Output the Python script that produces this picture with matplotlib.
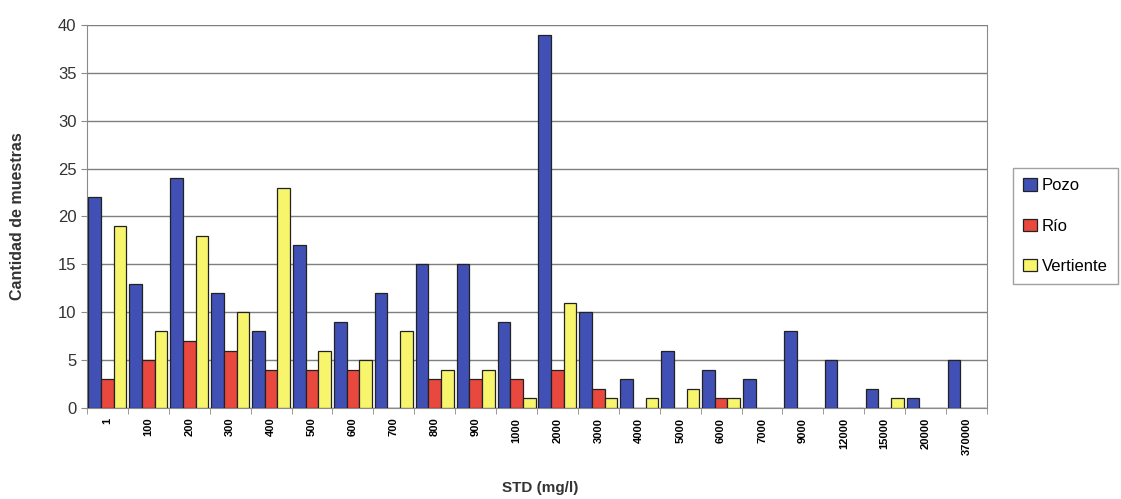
import matplotlib
matplotlib.use("Agg")
import matplotlib.pyplot as plt
import numpy as np

categories = ["1", "100", "200", "300", "400", "500", "600", "700", "800", "900", "1000",
              "2000", "3000", "4000", "5000", "6000", "7000", "9000", "12000", "15000",
              "20000", "370000"]
pozo = [22, 13, 24, 12, 8, 17, 9, 12, 15, 15, 9, 39, 10, 3, 6, 4, 3, 8, 5, 2, 1, 5]
rio = [3, 5, 7, 6, 4, 4, 4, 0, 3, 3, 3, 4, 2, 0, 0, 1, 0, 0, 0, 0, 0, 0]
vertiente = [19, 8, 18, 10, 23, 6, 5, 8, 4, 4, 1, 11, 1, 1, 2, 1, 0, 0, 0, 1, 0, 0]
series_names = ["Pozo", "Río", "Vertiente"]
series_colors = ["#4150b5", "#e8483e", "#f7f56c"]

plt.rcParams['font.family'] = ['Liberation Sans', 'DejaVu Sans']

fig = plt.figure(figsize=(11.21, 4.99), dpi=100)
ax = fig.add_axes([87/1121, 1 - 408/499, 900/1121, 383/499])

x = np.arange(len(categories))
w = 0.31
for i, (vals, name, col) in enumerate(zip([pozo, rio, vertiente], series_names, series_colors)):
    ax.bar(x + (i - 1) * w, vals, width=w, color=col, edgecolor="#222222",
           linewidth=0.9, label=name, zorder=3)

ax.set_xlim(-0.5, len(categories) - 0.5)
ax.set_ylim(0, 40)
ax.set_yticks(range(0, 41, 5))
ax.yaxis.grid(True, color="#7f7f7f", linewidth=1.0, zorder=0)
for s in ["left", "bottom", "right"]:
    ax.spines[s].set_color("#8a8a8a")
ax.spines["top"].set_visible(False)

ax.set_xticks(x)
ax.set_xticklabels(categories, rotation=90, fontsize=8, fontweight="bold",
                   ha="center", va="top")
ax.tick_params(axis="x", length=0, pad=7)
ax.set_xticks(np.arange(-0.5, len(categories), 1), minor=True)
ax.tick_params(axis="x", which="minor", length=4, color="#8a8a8a")
ax.tick_params(axis="y", labelsize=12, length=4, color="#8a8a8a")
for lbl in ax.get_yticklabels():
    lbl.set_color("#333333")

fig.text(18/1121, 1 - 216/499, "Cantidad de muestras", fontsize=11.5, fontweight="bold",
         color="#333333", ha="center", va="center", rotation=90)
fig.text(540/1121, 1 - 488/499, "STD (mg/l)", fontsize=11, fontweight="bold",
         color="#333333", ha="center", va="center")

leg = ax.legend(loc="upper left", bbox_to_anchor=(1005/1121, 1 - 160/499),
                bbox_transform=fig.transFigure, frameon=True, fontsize=12,
                handlelength=0.8, handleheight=0.8, handletextpad=0.3,
                labelspacing=1.5, borderpad=0.6, fancybox=False)
leg.get_frame().set_edgecolor("#8a8a8a")
leg.get_frame().set_linewidth(1.0)

fig.savefig("out.png", dpi=100)
